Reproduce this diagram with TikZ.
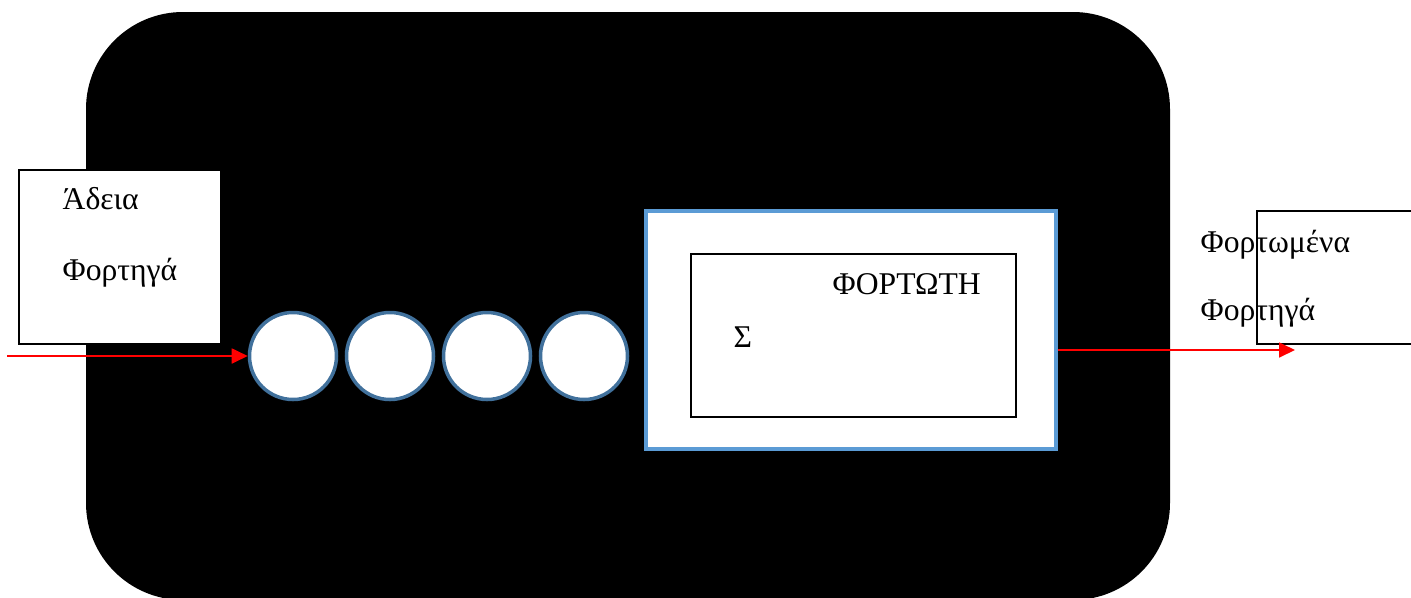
\documentclass[tikz,border=0pt]{standalone}
\usepackage{fontspec}
\setmainfont{Liberation Serif}
\usetikzlibrary{positioning, arrows.meta}
\definecolor{ringblue}{HTML}{41719C}
\definecolor{frameblue}{HTML}{5B9BD5}
\tikzset{node distance=0.97cm, % centre to centre for the queue
hall/.style={ % the black hall
fill=black, rounded corners=0.97cm,
minimum width=10.84cm, minimum height=5.88cm},
truckbox/.style={ % boxes of the trucks
draw, fill=white, line width=0.6pt},
slot/.style={ % one waiting truck
circle, draw=ringblue, fill=white, line width=1pt,
minimum size=0.87cm, inner sep=0pt},
label/.style={anchor=base west, inner sep=0pt, font=\fontsize{9pt}{11pt}\selectfont},
flow/.style={ % red transitions
draw=red, line width=0.5pt, -{Triangle[length=0.16cm,width=0.15cm]}}}

\begin{document}
\begin{tikzpicture}

    \clip (0,0) rectangle (14.11,-5.97);
    \useasboundingbox (0,0) rectangle (14.11,-5.97);

    \node[hall] (hall) at (6.28,-3.06) {};

    % empty trucks in
    \node[truckbox, minimum width=2.02cm, minimum height=1.74cm] (empty) at (1.20,-2.57) {};
    \node[label] (e1) at (0.62,-2.09) {Άδεια};
    \node[label] (e2) at (0.62,-2.80) {Φορτηγά};

    % the queue
    \node[slot] (q1) at (2.93,-3.56) {};
    \node[slot, right of=q1] (q2) {};
    \node[slot, right of=q2] (q3) {};
    \node[slot, right of=q3] (q4) {};

    % loading station
    \node[draw=frameblue, fill=white, line width=0.9pt,
          minimum width=4.10cm, minimum height=2.38cm] (load) at (8.51,-3.30) {};
    \node[draw, line width=0.5pt, minimum width=3.25cm, minimum height=1.63cm] (loader) at (8.535,-3.355) {};
    \node[label] (l1) at (8.32,-2.94) {ΦΟΡΤΩΤΗ};
    \node[label] (l2) at (7.33,-3.47) {Σ};

    % loaded trucks out
    \node[truckbox, minimum width=1.90cm, minimum height=1.33cm] (full) at (13.52,-2.775) {};
    \node[label] (f1) at (12.00,-2.52) {Φορτωμένα};
    \node[label] (f2) at (12.00,-3.20) {Φορτηγά};

    \coordinate (in) at (0.07,-3.56);
    \coordinate (out) at (12.95,-3.50);
    \draw[flow] (in) -- (q1);
    \draw[flow] ([yshift=-0.20cm]load.east) -- (out);

\end{tikzpicture}
\end{document}
